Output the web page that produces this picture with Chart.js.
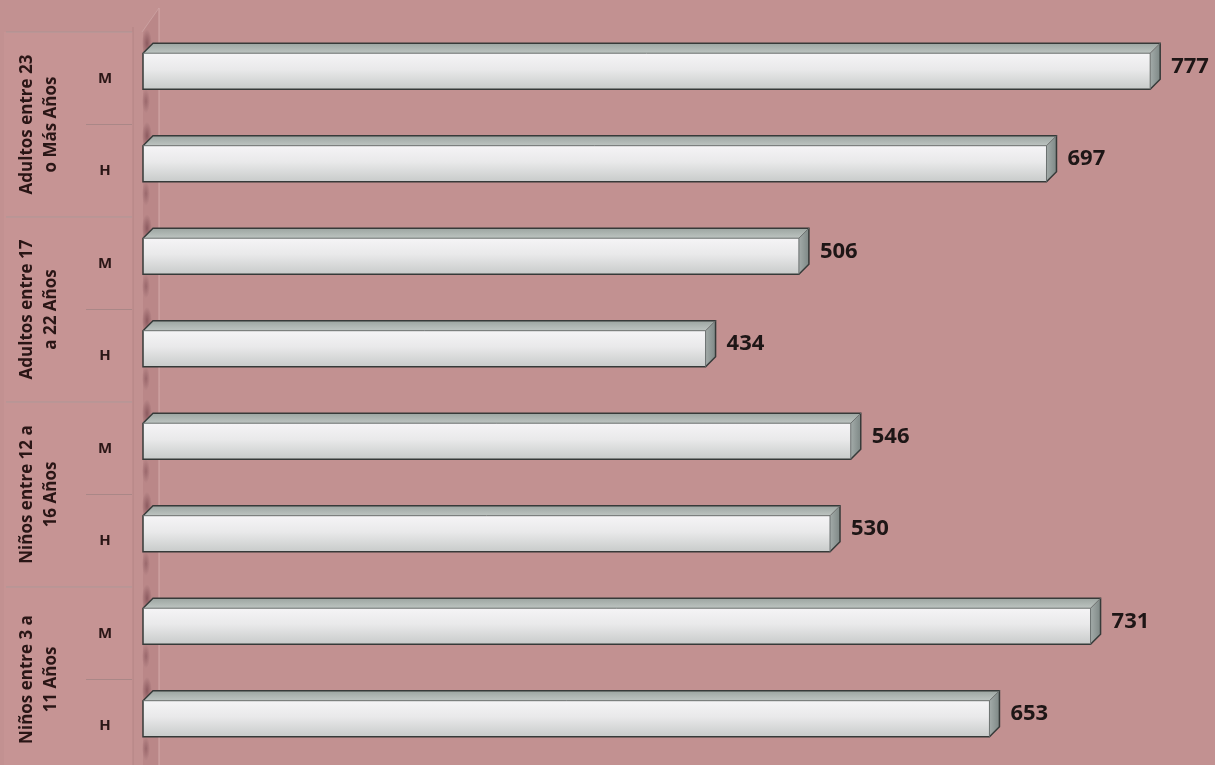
<!DOCTYPE html>
<html>
<head>
<meta charset="utf-8">
<script src="https://cdn.jsdelivr.net/npm/chart.js@4.4.0/dist/chart.umd.min.js"></script>
<style>
  html, body { margin: 0; padding: 0; background: #c29191; }
  #wrap { width: 1215px; height: 765px; }
</style>
</head>
<body>
<div id="wrap"><canvas id="barCanvas"></canvas></div>
<script>
// categories from top to bottom
const sexLabels = ["M", "H", "M", "H", "M", "H", "M", "H"];
const groupLabels = [
  ["Adultos entre 23", "o Más Años"],
  ["Adultos entre 17", "a 22 Años"],
  ["Niños entre 12 a", "16 Años"],
  ["Niños entre 3 a", "11 Años"]
];
const values = [777, 697, 506, 434, 546, 530, 731, 653];

const depth = 10;     // 3d depth of the bars
const shift = 7;      // the bars sit a bit above the category centre

function softSpot(ctx, x, y, rx, ry, alpha) {
  ctx.save();
  ctx.translate(x, y);
  ctx.scale(rx / ry, 1);
  const g = ctx.createRadialGradient(0, 0, 0, 0, 0, ry);
  g.addColorStop(0, "rgba(95,45,55," + alpha + ")");
  g.addColorStop(1, "rgba(95,45,55,0)");
  ctx.fillStyle = g;
  ctx.beginPath();
  ctx.arc(0, 0, ry, 0, Math.PI * 2);
  ctx.fill();
  ctx.restore();
}

const threeD = {
  id: "threeD",
  beforeDatasetsDraw(chart) {
    const ctx = chart.ctx;
    const area = chart.chartArea;
    const yScale = chart.scales.y;
    const step = yScale.getPixelForValue(1) - yScale.getPixelForValue(0);
    const top = yScale.getPixelForValue(0) - step / 2 + shift;

    // label panel
    ctx.save();
    ctx.fillStyle = "rgba(210,158,158,0.25)";
    ctx.fillRect(4, top, area.left - 14, chart.height - top);
    ctx.strokeStyle = "rgba(165,120,120,0.5)";
    ctx.lineWidth = 1;
    ctx.beginPath();
    ctx.moveTo(area.left - 10, top - 5);
    ctx.lineTo(area.left - 10, chart.height);
    ctx.stroke();

    // group and sub dividers
    for (let i = 0; i < sexLabels.length; i++) {
      const y = top + i * step;
      ctx.strokeStyle = i % 2 === 0 ? "rgba(170,150,150,0.9)" : "rgba(160,130,130,0.7)";
      ctx.beginPath();
      ctx.moveTo(i % 2 === 0 ? 6 : 86, y);
      ctx.lineTo(area.left - 11, y);
      ctx.stroke();
    }

    // left wall of the 3d plot
    ctx.fillStyle = "rgba(150,95,100,0.18)";
    ctx.beginPath();
    ctx.moveTo(area.left, top);
    ctx.lineTo(area.left + depth + 6, top - 24);
    ctx.lineTo(area.left + depth + 6, chart.height);
    ctx.lineTo(area.left, chart.height);
    ctx.closePath();
    ctx.fill();
    ctx.strokeStyle = "rgba(222,182,182,0.7)";
    ctx.beginPath();
    ctx.moveTo(area.left + depth + 6, top - 24);
    ctx.lineTo(area.left + depth + 6, chart.height);
    ctx.stroke();
    ctx.strokeStyle = "rgba(205,165,165,0.7)";
    ctx.beginPath();
    ctx.moveTo(area.left - 1, top);
    ctx.lineTo(area.left + depth + 6, top - 24);
    ctx.stroke();

    // shadows on the wall next to every bar
    const meta = chart.getDatasetMeta(0);
    meta.data.forEach((el) => {
      const h = el.height;
      softSpot(ctx, area.left + 4, el.y - h / 2 - 10, 5, 14, 0.5);
      softSpot(ctx, area.left + 3, el.y + h / 2 + 12, 4, 12, 0.35);
    });

    // text of the label panel
    ctx.fillStyle = "#2a1616";
    ctx.textAlign = "center";
    ctx.textBaseline = "middle";
    ctx.font = "bold 15px 'Open Sans'";
    sexLabels.forEach((s, i) => {
      ctx.fillText(s, 105, top + (i + 0.5) * step);
    });
    ctx.font = "bold 17px 'Open Sans'";
    groupLabels.forEach((lines, g) => {
      const cy = top + (g * 2 + 1) * step;
      ctx.save();
      ctx.translate(39, cy);
      ctx.rotate(-Math.PI / 2);
      ctx.fillText(lines[0], 0, -12);
      ctx.fillText(lines[1], 0, 12);
      ctx.restore();
    });
    ctx.restore();
  },
  afterDatasetsDraw(chart) {
    const ctx = chart.ctx;
    const meta = chart.getDatasetMeta(0);
    ctx.save();
    meta.data.forEach((el, i) => {
      const h = el.height;
      const l = el.base, r = el.x;
      const t = el.y - h / 2, b = el.y + h / 2;

      // front face
      const gf = ctx.createLinearGradient(0, t, 0, b);
      gf.addColorStop(0, "#f5f4f6");
      gf.addColorStop(0.45, "#e9e9ea");
      gf.addColorStop(1, "#c8cbca");
      ctx.fillStyle = gf;
      ctx.fillRect(l, t, r - l, h);

      // top face
      const gt = ctx.createLinearGradient(0, t - depth, 0, t);
      gt.addColorStop(0, "#9ca5a1");
      gt.addColorStop(1, "#bdc4c1");
      ctx.fillStyle = gt;
      ctx.beginPath();
      ctx.moveTo(l, t);
      ctx.lineTo(l + depth, t - depth);
      ctx.lineTo(r + depth, t - depth);
      ctx.lineTo(r, t);
      ctx.closePath();
      ctx.fill();

      // side face
      const gs = ctx.createLinearGradient(r, 0, r + depth, 0);
      gs.addColorStop(0, "#a3aba9");
      gs.addColorStop(1, "#7e8886");
      ctx.fillStyle = gs;
      ctx.beginPath();
      ctx.moveTo(r, t);
      ctx.lineTo(r + depth, t - depth);
      ctx.lineTo(r + depth, b - depth);
      ctx.lineTo(r, b);
      ctx.closePath();
      ctx.fill();

      // outlines
      ctx.strokeStyle = "#363a39";
      ctx.lineWidth = 1.5;
      ctx.beginPath();
      ctx.moveTo(l, b);
      ctx.lineTo(l, t);
      ctx.lineTo(l + depth, t - depth);
      ctx.lineTo(r + depth, t - depth);
      ctx.lineTo(r + depth, b - depth);
      ctx.lineTo(r, b);
      ctx.closePath();
      ctx.stroke();
      ctx.lineWidth = 1;
      ctx.strokeStyle = "#6b7170";
      ctx.beginPath();
      ctx.moveTo(l, t);
      ctx.lineTo(r, t);
      ctx.lineTo(r + depth, t - depth);
      ctx.moveTo(r, t);
      ctx.lineTo(r, b);
      ctx.stroke();

      // value
      ctx.fillStyle = "#1e1616";
      ctx.font = "bold 22px 'Open Sans'";
      ctx.textAlign = "left";
      ctx.textBaseline = "middle";
      ctx.fillText(String(values[i]), r + depth + 11, el.y - depth / 2);
    });
    ctx.restore();
  }
};

new Chart(document.getElementById("barCanvas"), {
  type: "bar",
  data: {
    labels: sexLabels,
    datasets: [{
      data: values,
      backgroundColor: "#e6e6e6",
      borderWidth: 0,
      categoryPercentage: 1,
      barPercentage: 0.39
    }]
  },
  options: {
    indexAxis: "y",
    responsive: true,
    maintainAspectRatio: false,
    animation: false,
    layout: { padding: { top: 25, right: 35, bottom: 0, left: 0 } },
    plugins: {
      legend: { display: false },
      tooltip: { enabled: false }
    },
    scales: {
      x: {
        display: false,
        min: 0,
        max: 800
      },
      y: {
        ticks: { display: false },
        grid: { display: false },
        border: { display: false },
        afterFit(scale) { scale.width = 143; }
      }
    }
  },
  plugins: [threeD]
});
</script>
</body>
</html>
